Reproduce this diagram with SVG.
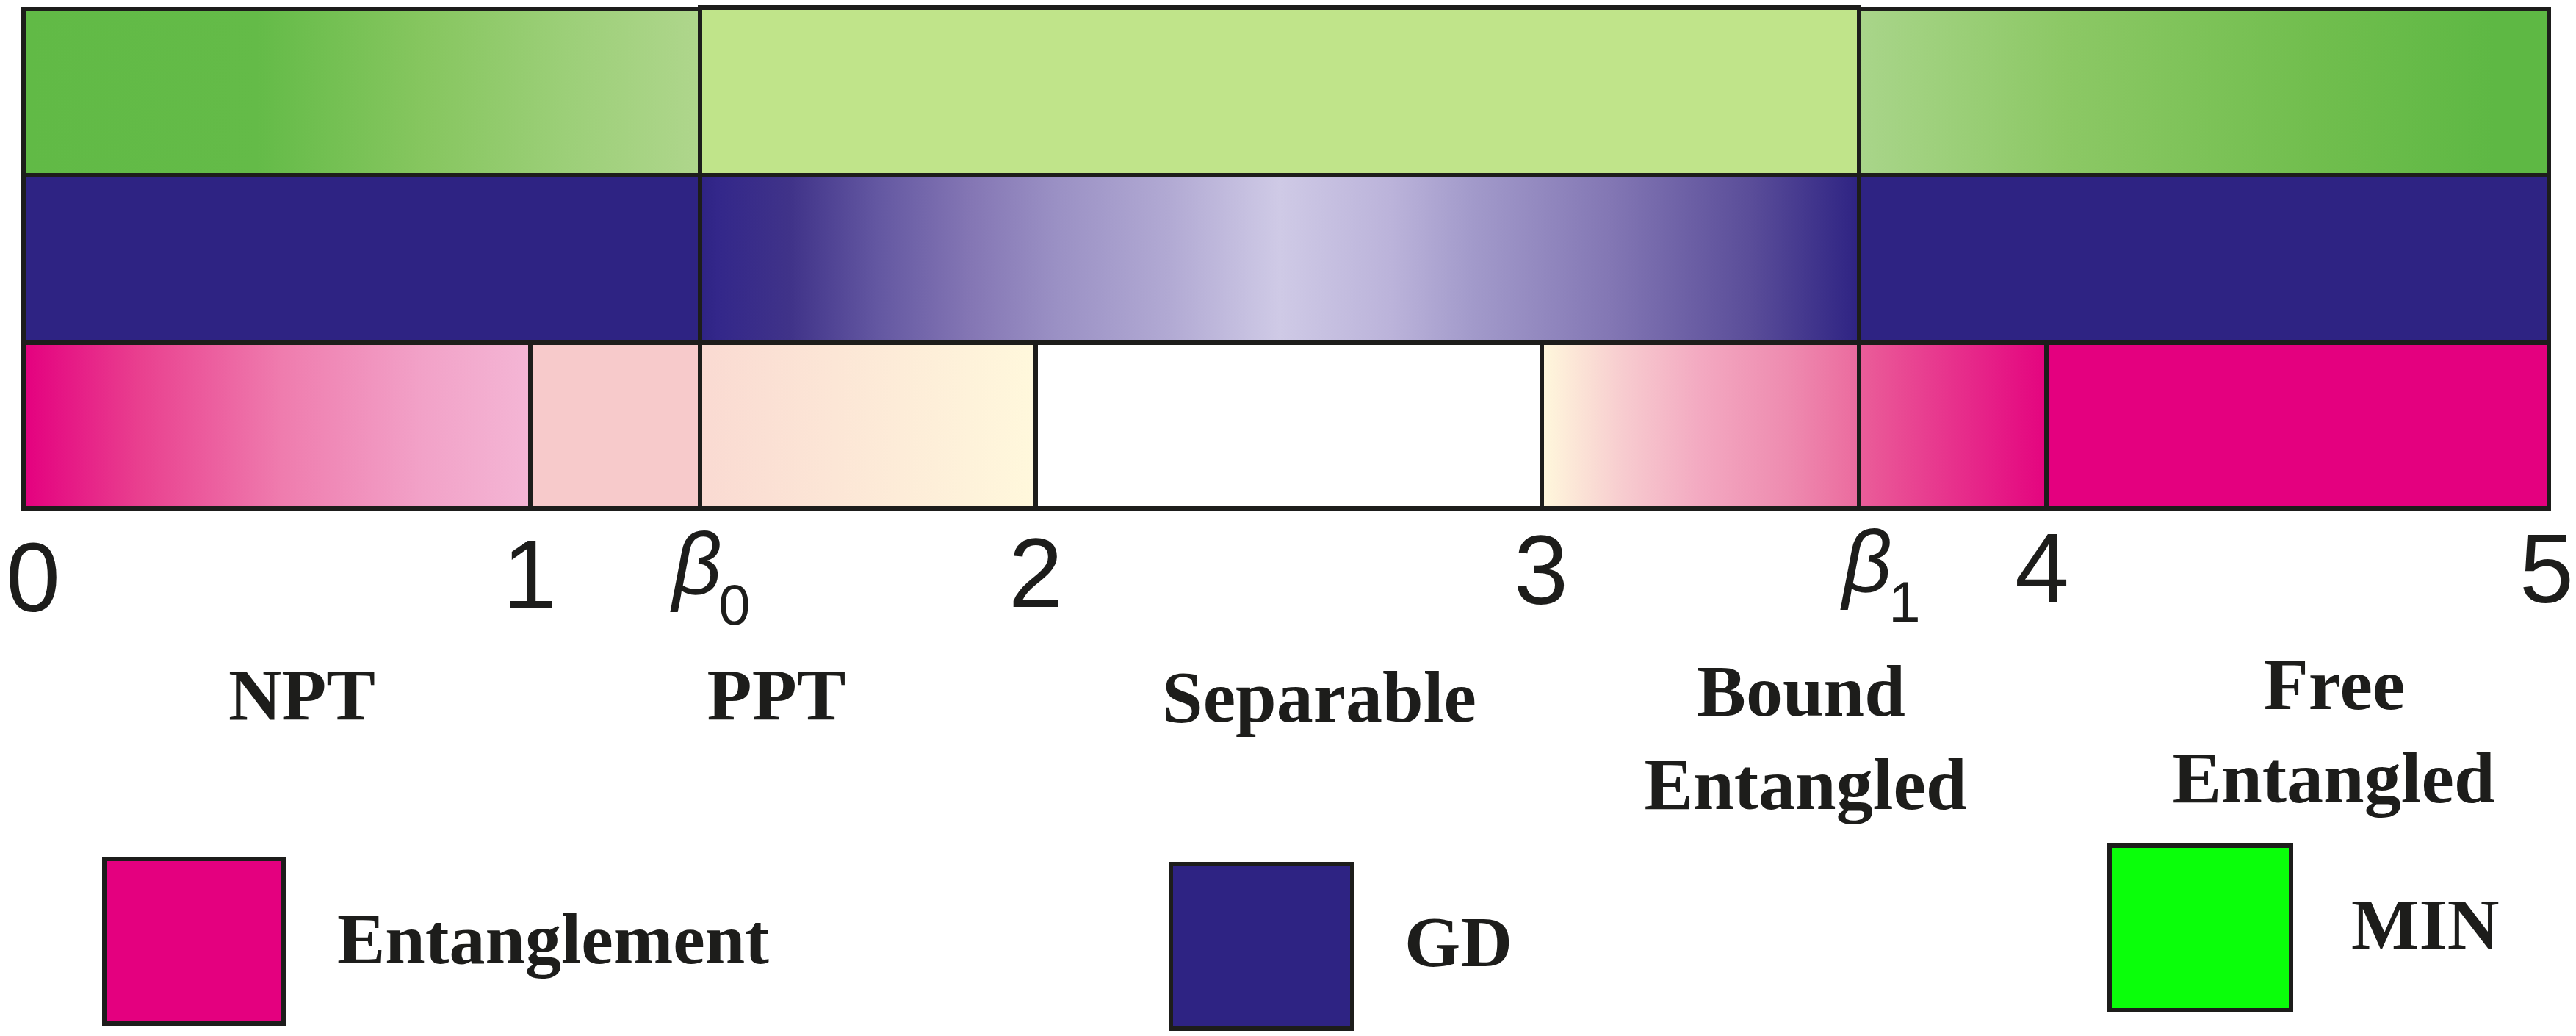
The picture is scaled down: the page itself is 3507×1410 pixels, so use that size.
<svg xmlns="http://www.w3.org/2000/svg" width="3507" height="1410" viewBox="0 0 3507 1410">
<style>
.seg{stroke:#1D1D1B;stroke-width:6}
.num{font-family:"Liberation Sans",Arial,sans-serif;font-size:133px;fill:#1D1D1B;text-anchor:middle}
.beta{font-family:"Liberation Sans",Arial,sans-serif;font-style:italic;font-size:118px;fill:#1D1D1B;text-anchor:middle}
.sub{font-family:"Liberation Sans",Arial,sans-serif;font-size:78px;fill:#1D1D1B;text-anchor:middle}
.lab{font-family:"Liberation Serif","Times New Roman",serif;font-weight:bold;font-size:100px;fill:#1D1D1B;text-anchor:middle}
.leg{font-family:"Liberation Serif","Times New Roman",serif;font-weight:bold;font-size:98px;fill:#1D1D1B}
</style>
<defs>
<linearGradient id="gL"><stop offset="0" stop-color="#61BA46"/><stop offset="0.345" stop-color="#64BB48"/><stop offset="0.59" stop-color="#86C65F"/><stop offset="0.8" stop-color="#9CCF78"/><stop offset="1" stop-color="#AFD68C"/></linearGradient>
<linearGradient id="gR"><stop offset="0" stop-color="#A9D58A"/><stop offset="0.3" stop-color="#8CC865"/><stop offset="0.66" stop-color="#71BE4E"/><stop offset="0.92" stop-color="#5EB844"/><stop offset="1" stop-color="#5EB844"/></linearGradient>
<linearGradient id="pM"><stop offset="0" stop-color="#2E2383"/><stop offset="0.015" stop-color="#33278A"/><stop offset="0.078" stop-color="#403389"/><stop offset="0.155" stop-color="#6458A2"/><stop offset="0.233" stop-color="#8476B4"/><stop offset="0.306" stop-color="#9A90C4"/><stop offset="0.403" stop-color="#B1A9D3"/><stop offset="0.5" stop-color="#CFCAE6"/><stop offset="0.597" stop-color="#BBB3DA"/><stop offset="0.663" stop-color="#A39BCB"/><stop offset="0.785" stop-color="#8377B4"/><stop offset="0.907" stop-color="#5A4D99"/><stop offset="1" stop-color="#2E2383"/></linearGradient>
<linearGradient id="e1"><stop offset="0" stop-color="#E4007F"/><stop offset="0.23" stop-color="#E9408F"/><stop offset="0.51" stop-color="#EF7CAE"/><stop offset="0.79" stop-color="#F2A2C8"/><stop offset="1" stop-color="#F4B6D5"/></linearGradient>
<linearGradient id="e3"><stop offset="0" stop-color="#FADAD2"/><stop offset="1" stop-color="#FFF8DC"/></linearGradient>
<linearGradient id="e5"><stop offset="0" stop-color="#FFF8DC"/><stop offset="0.26" stop-color="#F7CBCF"/><stop offset="0.5" stop-color="#F3A9C1"/><stop offset="0.77" stop-color="#EE8CB0"/><stop offset="1" stop-color="#EB6A9E"/></linearGradient>
<linearGradient id="e6"><stop offset="0" stop-color="#EA5E99"/><stop offset="1" stop-color="#E4047F"/></linearGradient>
</defs>
<rect width="3507" height="1410" fill="#FFFFFF"/>
<g id="min-bar">
<rect class="seg" x="32" y="12" width="921" height="226" fill="url(#gL)"/>
<rect class="seg" x="953" y="10" width="1578" height="228" fill="#C0E48A"/>
<rect class="seg" x="2531" y="12" width="939" height="226" fill="url(#gR)"/>
</g>
<g id="gd-bar">
<rect class="seg" x="32" y="238" width="921" height="228" fill="#2E2383"/>
<rect class="seg" x="953" y="238" width="1578" height="228" fill="url(#pM)"/>
<rect class="seg" x="2531" y="238" width="939" height="228" fill="#2E2383"/>
</g>
<g id="entanglement-bar">
<rect class="seg" x="32" y="466" width="690" height="226" fill="url(#e1)"/>
<rect class="seg" x="722" y="466" width="231" height="226" fill="#F7CACB"/>
<rect class="seg" x="953" y="466" width="457" height="226" fill="url(#e3)"/>
<rect class="seg" x="1410" y="466" width="689" height="226" fill="#FFFFFF"/>
<rect class="seg" x="2099" y="466" width="432" height="226" fill="url(#e5)"/>
<rect class="seg" x="2531" y="466" width="255" height="226" fill="url(#e6)"/>
<rect class="seg" x="2786" y="466" width="684" height="226" fill="#E4007F"/>
</g>
<g id="axis">
<text class="num" x="45" y="832">0</text>
<text class="num" x="721" y="828">1</text>
<text class="beta" x="949" y="808">β</text><text class="sub" x="1000" y="850">0</text>
<text class="num" x="1410" y="826">2</text>
<text class="num" x="2098" y="822">3</text>
<text class="beta" x="2542" y="805">β</text><text class="sub" x="2593" y="846">1</text>
<text class="num" x="2780" y="819">4</text>
<text class="num" x="3467" y="820">5</text>
</g>
<g id="region-labels">
<text class="lab" x="411" y="979">NPT</text>
<text class="lab" x="1057" y="979">PPT</text>
<text class="lab" x="1796" y="982">Separable</text>
<text class="lab" x="2452" y="974">Bound</text>
<text class="lab" x="2458" y="1101">Entangled</text>
<text class="lab" x="3178" y="965">Free</text>
<text class="lab" x="3177" y="1092">Entangled</text>
</g>
<g id="legend-entanglement">
<rect class="seg" x="142" y="1169" width="244" height="224" fill="#E4007F"/>
<text class="leg" x="459" y="1311">Entanglement</text>
</g>
<g id="legend-gd">
<rect class="seg" x="1594" y="1176" width="247" height="224" fill="#2E2383"/>
<text class="leg" x="1912" y="1315">GD</text>
</g>
<g id="legend-min">
<rect class="seg" x="2872" y="1151" width="247" height="224" fill="#0AFF0A"/>
<text class="leg" x="3201" y="1291">MIN</text>
</g>
</svg>
